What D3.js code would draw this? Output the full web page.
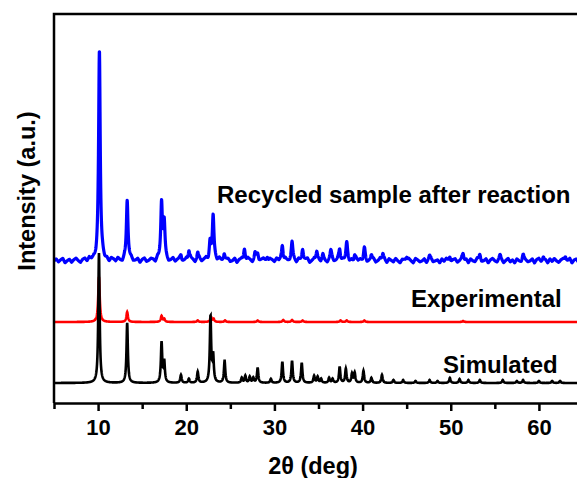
<!DOCTYPE html>
<html>
<head>
<meta charset="utf-8">
<script src="https://cdn.jsdelivr.net/npm/d3@7"></script>
<style>
  body { margin: 0; background: #fff; }
  text { font-family: Arial, "Liberation Sans", sans-serif; font-weight: bold; fill: #000; }
</style>
</head>
<body>
<div class="chart"></div>
<script>
const width = 577;
const height = 478;
const plotLeft = 54, plotTop = 14, plotBottom = 403;

// x ticks
const majorTicks = [10, 20, 30, 40, 50, 60];
const minorTicks = [5, 15, 25, 35, 45, 55, 65];

// peak lists: position (2theta) and height (a.u. above baseline)
const simPos = [10.1, 13.3, 17.2, 17.5, 19.4, 20.3, 21.3, 22.75, 23.05, 24.35, 26.3, 26.7, 27.2, 27.6, 28.1, 29.6, 30.9, 32.0, 33.1, 34.5, 34.9, 35.3, 36.2, 36.6, 37.4, 38.1, 38.8, 39.1, 40.1, 41.0, 42.2, 43.5, 44.6, 46.0, 47.6, 48.5, 49.9, 51.0, 52.0, 53.3, 55.9, 57.5, 58.2, 60.0, 61.5, 62.4];
const simInt = [130, 60, 40, 21, 8, 4, 11, 66, 26, 22, 5, 7, 6, 5, 15, 4, 21, 22, 20, 7, 6, 4, 5, 4, 16, 14, 9, 10, 12, 5, 8, 3, 3, 2, 3, 2, 5, 4, 3, 3, 3, 2, 3, 2, 2, 2];

const expPos = [10.1, 13.3, 17.2, 17.5, 21.3, 22.8, 23.1, 24.4, 28.1, 31.0, 32.0, 33.2, 37.5, 38.2, 40.2, 51.4];
const expInt = [45, 10, 6, 3, 1.5, 5, 3, 1.5, 1.5, 2, 2, 1.5, 1.5, 1.5, 1.5, 1];

const recPos = [10.15, 13.3, 17.2, 17.5, 19.4, 20.3, 21.3, 22.7, 23.05, 24.3, 26.6, 27.8, 28.1, 29.2, 30.9, 32.0, 33.2, 34.8, 35.5, 36.4, 37.4, 38.2, 39.1, 40.2, 41.0, 42.3, 45.0, 47.6, 49.9, 51.4, 53.3, 55.6, 58.2, 60.5, 63.0];
const recInt = [210, 61, 58, 35, 6, 10, 8, 19, 44, 8, 12, 8, 6, 5, 16, 17, 12, 10, 5, 9, 12, 17, 6, 12, 5, 8, 5, 4, 5, 7, 6, 5, 5, 4, 5];

// baseline wobble of the recycled pattern, every 0.25 deg from 5 to 65
const recNoise = [
  0, 2, -1, 1, 2.5, -2, 0, 1.5, -1.5, 1, 2.5, 0, -2, 1, 2, -1, 2.5, 0, 1, -2,
  2, 0, 2.5, -1, 1, -2, 2, 1, -1, 2.5, 0, -2, 2, -1, 1, 2.5, -1, 0, 2, -2,
  1, 2.5, -1, 0, 2, 1, -2, 2.5, 0, -1, 2, 1, -2, 0, 2.5, -1, 1, 2, -2, 0,
  2, -1, 2.5, 1, -2, 0, 2, -1, 1, 2.5, -2, 0, 1, 2, -1, 2.5, 0, -2, 1, 2,
  -1, 0, 2.5, -2, 1, 2, 0, -1, 2.5, 1, -2, 0, 2, -1, 1, 2.5, 0, -2, 2, 1,
  -1, 2.5, 0, 1, -2, 2, 0, -1, 2.5, 1, -2, 2, 0, -1, 1, 2.5, -2, 0, 2, -1,
  1, -1.5, 2, 0, -2, 1.5, 2.5, -1, 0, 2, -2, 1, 0, 2.5, -1.5, 1, -2, 2, 0, 1.5,
  -1, 2.5, -2, 0, 1, 2, -1.5, 0, 2.5, -1, 1, -2, 2, 0.5, -1, 2.5, 0, -2, 1.5, 1,
  -1.5, 2, 0, -2, 2.5, 1, -1, 0, 2, -2, 1.5, 2.5, -1, 0, 1, -2, 2, -0.5, 2.5, 0,
  -2, 1, 2, -1.5, 0, 2.5, -1, 1.5, -2, 2, 0, -1, 2.5, 1, -1.5, 0, 2, -2, 1, 2.5,
  0, -1.5, 2, 1, -2, 0.5, 2.5, -1, 1, -2, 2, 0, -1.5, 2.5, 1, -1, 0, 2, -2, 1.5,
  2.5, -1, 0, 1, -2, 2, -0.5, 2.5, 0, -1.5, 1, 2, -1, 0, 2.5, -2, 1, 2, -1.5, 0, 1];

const offsets = { sim: 20, exp: 81, rec: 142 };

const svg = d3.select(".chart").append("svg")
  .attr("width", width).attr("height", height);

const x = d3.scaleLinear().domain([5, 65]).range([plotLeft, 583]);
const y = d3.scaleLinear().domain([0, 389]).range([plotBottom, plotTop]);

svg.append("clipPath").attr("id", "plot")
  .append("rect").attr("x", plotLeft).attr("y", plotTop)
  .attr("width", width - plotLeft).attr("height", plotBottom - plotTop);

const grid = d3.range(5, 65.0001, 0.02);
function pattern(pos, inten, hw, base, noise, step) {
  return grid.map(t => {
    let v = base;
    pos.forEach((c, i) => { const d = (t - c) / hw; v += inten[i] / (1 + d * d); });
    if (noise) {
      const k = (t - 5) / step, i0 = Math.min(Math.floor(k), noise.length - 2), f = k - i0;
      v += noise[i0] * (1 - f) + noise[i0 + 1] * f;
    }
    return [t, v];
  });
}

const line = d3.line().x(d => x(d[0])).y(d => y(d[1]));
const g = svg.append("g").attr("clip-path", "url(#plot)");

g.append("path").datum(pattern(expPos, expInt, 0.1, offsets.exp))
  .attr("d", line).attr("fill", "none").attr("stroke", "#ff0000").attr("stroke-width", 2.6);
g.append("path").datum(pattern(simPos, simInt, 0.09, offsets.sim))
  .attr("d", line).attr("fill", "none").attr("stroke", "#000").attr("stroke-width", 2.6);
g.append("path").datum(pattern(recPos, recInt, 0.11, offsets.rec, recNoise, 0.25))
  .attr("d", line).attr("fill", "none").attr("stroke", "#0000ff").attr("stroke-width", 3.2).attr("stroke-linejoin", "round");

// frame
svg.append("path")
  .attr("d", `M${plotLeft},${plotBottom}V${plotTop}H${width}`)
  .attr("fill", "none").attr("stroke", "#000").attr("stroke-width", 2.5);

const xAxis = svg.append("g").attr("transform", `translate(0,${plotBottom})`)
  .call(d3.axisBottom(x).tickValues(majorTicks).tickSize(8).tickSizeOuter(0).tickPadding(8));
xAxis.select(".domain").attr("stroke-width", 2.5);
xAxis.selectAll(".tick line").attr("stroke-width", 2.5);
xAxis.selectAll("text").style("font-size", "22px");
xAxis.attr("font-family", null);

const xMinor = svg.append("g").attr("transform", `translate(0,${plotBottom})`)
  .call(d3.axisBottom(x).tickValues(minorTicks).tickSize(6).tickSizeOuter(0).tickFormat(""));
xMinor.select(".domain").remove();
xMinor.selectAll(".tick line").attr("stroke-width", 2.5);

// labels
svg.append("text").attr("x", 313).attr("y", 474).attr("text-anchor", "middle")
  .style("font-size", "23.5px").text("2θ (deg)");
svg.append("text").attr("transform", "translate(35,191) rotate(-90)").attr("text-anchor", "middle")
  .style("font-size", "23.5px").text("Intensity (a.u.)");

svg.append("text").attr("x", 217).attr("y", 203).style("font-size", "24px").text("Recycled sample after reaction");
svg.append("text").attr("x", 411).attr("y", 307).style("font-size", "24px").text("Experimental");
svg.append("text").attr("x", 443).attr("y", 373).style("font-size", "24px").text("Simulated");
</script>
</body>
</html>
